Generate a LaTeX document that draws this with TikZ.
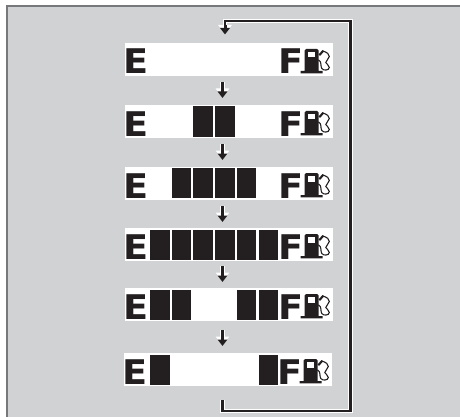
\documentclass[tikz,border=0pt]{standalone}
\usepackage{fontspec}
\setmainfont{DejaVu Sans}
\usetikzlibrary{arrows.meta}
\definecolor{ink}{HTML}{231F20}
\definecolor{bgg}{HTML}{D0D2D3}
\definecolor{edgeg}{HTML}{77787B}
\tikzset{
  x=1pt,y=-1pt,
  panel/.style={fill=white,draw=none,minimum width=208pt,minimum height=33pt,inner sep=0pt,outer sep=0pt,anchor=north west},
  seg/.style={fill=ink,draw=none,minimum width=19.6pt,minimum height=30pt,inner sep=0pt,outer sep=0pt,anchor=north west},
  letter/.style={font=\fontsize{34pt}{34pt}\selectfont\bfseries,text=ink,inner sep=0pt,outer sep=0pt,anchor=base west,draw=none},
  halo/.style={draw=white,line width=4.6pt,line cap=butt,line join=miter},
  loopline/.style={draw=ink,line width=2.3pt,line join=miter},
  flowtip/.style={draw=ink,line width=3pt,-{Triangle[length=6.5pt,width=9.5pt,fill=ink]},
    preaction={draw=white,line width=5.2pt,-{Triangle[length=9.5pt,width=13pt,fill=white,color=white]}}},
}
\newcommand{\gaugebase}[3]{% name, x, y
  \node[panel] (#1) at (#2,#3) {};
  \begin{scope}[shift={(#2,#3)}]
    \node[letter] (#1E) at (-1.3,31) {\scalebox{1.08}[1]{E}};
    \node[letter] (#1F) at (153,31) {\scalebox{1.08}[1]{F}};
    % pump
    \fill[ink] (179.5,7.5) -- (181,6) -- (192,6) -- (193.5,7.5) -- (193.5,28) -- (197.5,28) -- (197.5,30.3) -- (175.5,30.3) -- (175.5,28) -- (179.5,28) -- cycle;
    \fill[white] (182.5,8.7) rectangle (190,14.5);
    \draw[ink,line width=1.1pt,line cap=round] (198,8) .. controls (202,9.5) and (204.5,11) .. (204.3,13.5) .. controls (204,16.5) and (200.8,17) .. (200.8,19.5) .. controls (200.8,21.5) and (204.5,21.5) .. (204.3,24.5) .. controls (204,27.5) and (198.5,28) .. (196.8,25.5) .. controls (195.2,23) and (197,18.5) .. (193.5,17);
    \fill[ink] (193.5,11.5) -- (197.5,7) -- (199,8.5) -- (195,13) -- cycle;
  \end{scope}
}
\newcommand{\gaugeseg}[3]{\node[seg] (#1) at (#2,#3) {};}
\begin{document}
\begin{tikzpicture}
\useasboundingbox (0,0) rectangle (460,417);
\fill[white] (0,0) rectangle (460,417);
\fill[edgeg] (6,5) rectangle (460,417);
\fill[bgg] (8,7) rectangle (460,417);
% panels
\gaugebase{a}{125}{43}
\gaugebase{b}{125}{105}
\gaugebase{c}{125}{167}
\gaugebase{d}{125}{228}
\gaugebase{e}{125}{288}
\gaugebase{f}{124}{353}
% segments
\gaugeseg{b3}{193.4}{106.5}\gaugeseg{b4}{215.1}{106.5}
\gaugeseg{c2}{171.7}{168}\gaugeseg{c3}{193.4}{168}\gaugeseg{c4}{215.1}{168}\gaugeseg{c5}{236.8}{168}
\gaugeseg{d1}{150}{229.5}\gaugeseg{d2}{171.7}{229.5}\gaugeseg{d3}{193.4}{229.5}\gaugeseg{d4}{215.1}{229.5}\gaugeseg{d5}{236.8}{229.5}\gaugeseg{d6}{258.5}{229.5}
\gaugeseg{e1}{150}{289.5}\gaugeseg{e2}{171.7}{289.5}\gaugeseg{e5}{236.8}{289.5}\gaugeseg{e6}{258.5}{289.5}
\gaugeseg{f1}{150}{354.5}\gaugeseg{f6}{258.5}{354.5}
% arrows between panels
\coordinate (s1) at (222.5,82); \coordinate (t1) at (222.5,98);
\coordinate (s2) at (222.5,144); \coordinate (t2) at (222.5,160);
\coordinate (s3) at (222.5,206); \coordinate (t3) at (222.5,222);
\coordinate (s4) at (222.5,266); \coordinate (t4) at (222.5,282);
\coordinate (s5) at (222.5,330); \coordinate (t5) at (222.5,346);
\foreach \i in {1,...,5}{\draw[flowtip] (s\i) -- (t\i);}
% return loop
\coordinate (lb) at (222.5,400);
\coordinate (lc) at (350.5,411);
\coordinate (ld) at (350.5,21);
\coordinate (le) at (225,21);
\coordinate (lf) at (225,34.5);
\draw[halo] (lb) |- (lc) -- (ld) -- (le) -- ++(0,5);
\draw[flowtip] (225,25) -- (lf);
\draw[loopline] (lb) |- (lc) -- (ld) -- (le) -- ++(0,6);
\end{tikzpicture}
\end{document}
